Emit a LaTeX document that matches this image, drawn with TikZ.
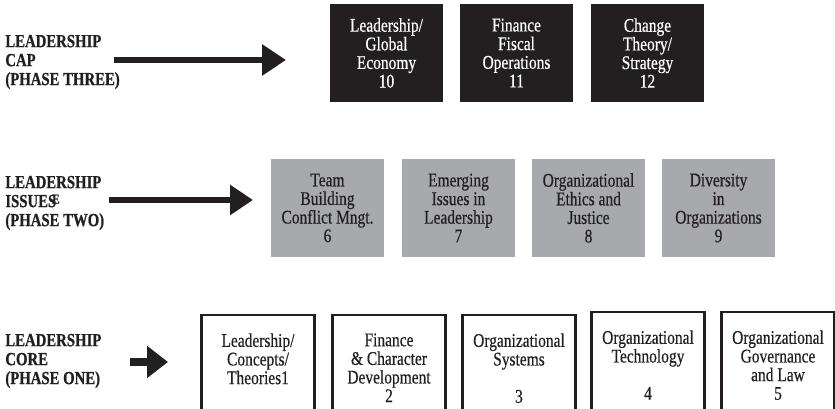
\documentclass[tikz,border=0pt]{standalone}
\usepackage{fontspec}
\setmainfont{Liberation Serif}[FakeStretch=0.8,
  UprightFeatures={FakeBold=0.5}, BoldFeatures={FakeBold=0.8}]
\usetikzlibrary{arrows.meta}
\definecolor{boxblack}{HTML}{231F20}
\definecolor{boxgray}{HTML}{A7A9AC}

\begin{document}
\begin{tikzpicture}[
    phase/.style={anchor=west, align=left, inner sep=0pt, text=boxblack,
      font=\bfseries\fontsize{10.5}{10.8}\selectfont},
    course/.style={minimum width=2.26cm, align=center, outer sep=0pt,
      font=\fontsize{11}{10.6}\selectfont},
    capbox/.style={course, fill=boxblack, text=white, minimum height=1.96cm},
    issuebox/.style={course, fill=boxgray, text=boxblack, minimum height=1.96cm},
    corebox/.style={course, draw=boxblack, line width=.05cm, text=boxblack,
      anchor=north, inner ysep=10.5pt, text depth=2cm},
    bigarrow/.style={draw=boxblack, line width=.12cm, -{Triangle[length=.48cm,width=.6cm]}}
  ]
    \useasboundingbox (0,0) rectangle (16.7,8.18);
    \clip (0,0) rectangle (16.7,8.18);

    % phase three: cap
    \node[phase] (caplabel) at (0.1,6.94) {LEADERSHIP\\CAP\\(PHASE THREE)};
    \node[capbox] (cap10) at (7.73,7.12) {Leadership/\\Global\\Economy\\10};
    \node[capbox] (cap11) at (10.33,7.12) {Finance\\Fiscal\\Operations\\11};
    \node[capbox] (cap12) at (12.95,7.12) {Change\\Theory/\\Strategy\\12};
    \coordinate (capstart) at (2.28,6.98);
    \coordinate (captip) at (5.72,6.98);
    \draw[bigarrow] (capstart) -- (captip);

    % phase two: issues
    \node[phase] (issuelabel) at (0.1,4.12)
      {LEADERSHIP\\ISSUES\kern-.22em\raisebox{.4ex}{\footnotesize E}\\(PHASE TWO)};
    \node[issuebox] (issue6) at (6.55,4.02) {Team\\Building\\Conflict Mngt.\\6};
    \node[issuebox] (issue7) at (9.17,4.02) {Emerging\\Issues in\\Leadership\\7};
    \node[issuebox] (issue8) at (11.77,4.02) {Organizational\\Ethics and\\Justice\\8};
    \node[issuebox] (issue9) at (14.37,4.02) {Diversity\\in\\Organizations\\9};
    \coordinate (issuestart) at (2.18,4.18);
    \coordinate (issuetip) at (5.06,4.18);
    \draw[bigarrow, -{Triangle[length=.46cm,width=.58cm]}] (issuestart) -- (issuetip);

    % phase one: core
    \node[phase] (corelabel) at (0.1,0.96) {LEADERSHIP\\CORE\\(PHASE ONE)};
    \node[corebox] (core1) at (5.16,1.88) {Leadership/\\Concepts/\\Theories1};
    \node[corebox] (core2) at (7.78,1.88) {Finance\\\& Character\\Development\\2};
    \node[corebox] (core3) at (10.38,1.88) {Organizational\\Systems\\[10.6pt]3};
    \node[corebox] (core4) at (12.96,1.94) {Organizational\\Technology\\[10.6pt]4};
    \node[corebox] (core5) at (15.56,1.94) {Organizational\\Governance\\and Law\\5};
    \coordinate (corestart) at (2.60,0.94);
    \coordinate (coretip) at (3.36,0.94);
    \draw[bigarrow, line width=.17cm, -{Triangle[length=.42cm,width=.62cm]}] (corestart) -- (coretip);
  \end{tikzpicture}
\end{document}
